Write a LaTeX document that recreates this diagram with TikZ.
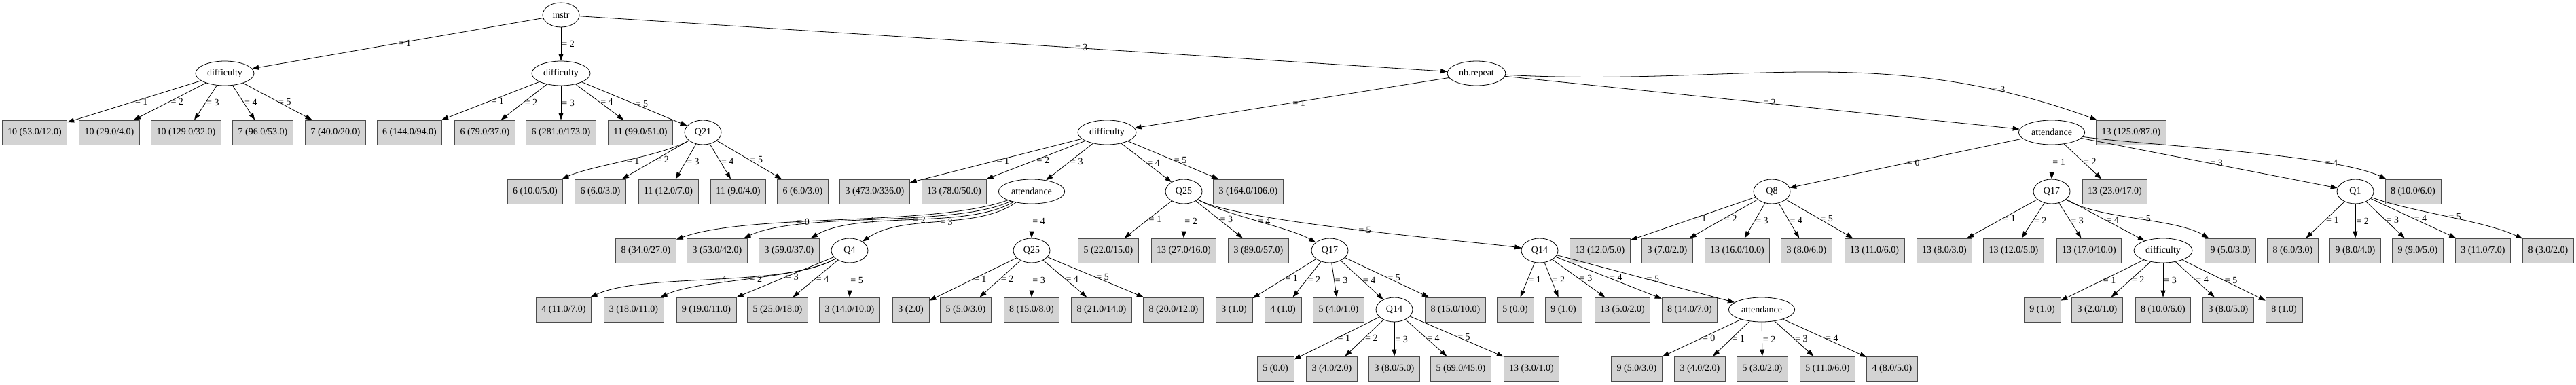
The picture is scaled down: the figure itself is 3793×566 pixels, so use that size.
\documentclass[tikz,border=0pt]{standalone}
\usepackage{fontspec}
\setmainfont{Liberation Serif}
\usepackage{xcolor}
\usepackage{tikz}
\usetikzlibrary{shapes,arrows.meta,positioning}
\definecolor{leafgray}{HTML}{D3D3D3}

\begin{document}
\begin{tikzpicture}[x=1pt, y=-1pt, line width=0.8pt, >={Triangle[length=10pt,width=7pt]}, font=\fontsize{14pt}{16pt}\selectfont]
    % Define styles
    \tikzstyle{attr} = [ellipse, draw=black, minimum width=54pt, minimum height=36pt, inner xsep=4.5pt, inner ysep=2pt]
    \tikzstyle{leaf} = [rectangle, draw=black!70, fill=leafgray, minimum width=54pt, minimum height=36pt, inner xsep=8pt]
    \tikzstyle{cond} = [midway, right, inner sep=1pt]

    \useasboundingbox (0,0) rectangle (3793,566);

    % Root and first split
    \node[attr] (instr) at (826,22) {instr};
    \node[attr] (dif1) at (331,108) {difficulty};
    \node[attr] (dif2) at (826,108) {difficulty};
    \node[attr] (nbrep) at (2174,108) {nb.repeat};

    % Level 2
    \node[leaf] (dif1k1) at (51,195) {10 (53.0/12.0)};
    \node[leaf] (dif1k2) at (161,195) {10 (29.0/4.0)};
    \node[leaf] (dif1k3) at (274,195) {10 (129.0/32.0)};
    \node[leaf] (dif1k4) at (387,195) {7 (96.0/53.0)};
    \node[leaf] (dif1k5) at (494,195) {7 (40.0/20.0)};
    \node[leaf] (dif2k1) at (603,195) {6 (144.0/94.0)};
    \node[leaf] (dif2k2) at (714,195) {6 (79.0/37.0)};
    \node[leaf] (dif2k3) at (826,195) {6 (281.0/173.0)};
    \node[leaf] (dif2k4) at (943,195) {11 (99.0/51.0)};
    \node[attr] (q21) at (1035,195) {Q21};
    \node[attr] (dif3) at (1630,195) {difficulty};
    \node[attr] (att2) at (3021,195) {attendance};
    \node[leaf] (nbrepk3) at (3138,195) {13 (125.0/87.0)};

    % Level 3
    \node[leaf] (q21k1) at (788,282) {6 (10.0/5.0)};
    \node[leaf] (q21k2) at (884,282) {6 (6.0/3.0)};
    \node[leaf] (q21k3) at (984,282) {11 (12.0/7.0)};
    \node[leaf] (q21k4) at (1087,282) {11 (9.0/4.0)};
    \node[leaf] (q21k5) at (1182,282) {6 (6.0/3.0)};
    \node[leaf] (dif3k1) at (1288,282) {3 (473.0/336.0)};
    \node[leaf] (dif3k2) at (1405,282) {13 (78.0/50.0)};
    \node[attr] (att1) at (1519,282) {attendance};
    \node[attr] (q25a) at (1743,282) {Q25};
    \node[leaf] (dif3k5) at (1838,282) {3 (164.0/106.0)};
    \node[attr] (q8) at (2609,282) {Q8};
    \node[attr] (q17a) at (3021,282) {Q17};
    \node[leaf] (att2k2) at (3114,282) {13 (23.0/17.0)};
    \node[attr] (q1) at (3468,282) {Q1};
    \node[leaf] (att2k4) at (3553,282) {8 (10.0/6.0)};

    % Level 4
    \node[leaf] (att1k0) at (951,369) {8 (34.0/27.0)};
    \node[leaf] (att1k1) at (1056,369) {3 (53.0/42.0)};
    \node[leaf] (att1k2) at (1162,369) {3 (59.0/37.0)};
    \node[attr] (q4) at (1251,369) {Q4};
    \node[attr] (q25b) at (1519,369) {Q25};
    \node[leaf] (q25ak1) at (1632,369) {5 (22.0/15.0)};
    \node[leaf] (q25ak2) at (1743,369) {13 (27.0/16.0)};
    \node[leaf] (q25ak3) at (1853,369) {3 (89.0/57.0)};
    \node[attr] (q17b) at (1958,369) {Q17};
    \node[attr] (q14a) at (2267,369) {Q14};
    \node[leaf] (q8k1) at (2356,369) {13 (12.0/5.0)};
    \node[leaf] (q8k2) at (2455,369) {3 (7.0/2.0)};
    \node[leaf] (q8k3) at (2558,369) {13 (16.0/10.0)};
    \node[leaf] (q8k4) at (2660,369) {3 (8.0/6.0)};
    \node[leaf] (q8k5) at (2760,369) {13 (11.0/6.0)};
    \node[leaf] (q17ak1) at (2863,369) {13 (8.0/3.0)};
    \node[leaf] (q17ak2) at (2965,369) {13 (12.0/5.0)};
    \node[leaf] (q17ak3) at (3076,369) {13 (17.0/10.0)};
    \node[attr] (dif4) at (3185,369) {difficulty};
    \node[leaf] (q17ak5) at (3284,369) {9 (5.0/3.0)};
    \node[leaf] (q1k1) at (3376,369) {8 (6.0/3.0)};
    \node[leaf] (q1k2) at (3468,369) {9 (8.0/4.0)};
    \node[leaf] (q1k3) at (3560,369) {9 (9.0/5.0)};
    \node[leaf] (q1k4) at (3656,369) {3 (11.0/7.0)};
    \node[leaf] (q1k5) at (3752,369) {8 (3.0/2.0)};

    % Level 5
    \node[leaf] (q4k1) at (830,456) {4 (11.0/7.0)};
    \node[leaf] (q4k2) at (933,456) {3 (18.0/11.0)};
    \node[leaf] (q4k3) at (1040,456) {9 (19.0/11.0)};
    \node[leaf] (q4k4) at (1145,456) {5 (25.0/18.0)};
    \node[leaf] (q4k5) at (1251,456) {3 (14.0/10.0)};
    \node[leaf] (q25bk1) at (1341,456) {3 (2.0)};
    \node[leaf] (q25bk2) at (1422,456) {5 (5.0/3.0)};
    \node[leaf] (q25bk3) at (1519,456) {8 (15.0/8.0)};
    \node[leaf] (q25bk4) at (1622,456) {8 (21.0/14.0)};
    \node[leaf] (q25bk5) at (1728,456) {8 (20.0/12.0)};
    \node[leaf] (q17bk1) at (1817,456) {3 (1.0)};
    \node[leaf] (q17bk2) at (1889,456) {4 (1.0)};
    \node[leaf] (q17bk3) at (1971,456) {5 (4.0/1.0)};
    \node[attr] (q14b) at (2053,456) {Q14};
    \node[leaf] (q17bk5) at (2143,456) {8 (15.0/10.0)};
    \node[leaf] (q14ak1) at (2231,456) {5 (0.0)};
    \node[leaf] (q14ak2) at (2302,456) {9 (1.0)};
    \node[leaf] (q14ak3) at (2389,456) {13 (5.0/2.0)};
    \node[leaf] (q14ak4) at (2488,456) {8 (14.0/7.0)};
    \node[attr] (att3) at (2594,456) {attendance};
    \node[leaf] (dif4k1) at (3007,456) {9 (1.0)};
    \node[leaf] (dif4k2) at (3088,456) {3 (2.0/1.0)};
    \node[leaf] (dif4k3) at (3185,456) {8 (10.0/6.0)};
    \node[leaf] (dif4k4) at (3281,456) {3 (8.0/5.0)};
    \node[leaf] (dif4k5) at (3363,456) {8 (1.0)};

    % Level 6
    \node[leaf] (q14bk1) at (1878,543) {5 (0.0)};
    \node[leaf] (q14bk2) at (1961,543) {3 (4.0/2.0)};
    \node[leaf] (q14bk3) at (2053,543) {3 (8.0/5.0)};
    \node[leaf] (q14bk4) at (2151,543) {5 (69.0/45.0)};
    \node[leaf] (q14bk5) at (2255,543) {13 (3.0/1.0)};
    \node[leaf] (att3k0) at (2410,543) {9 (5.0/3.0)};
    \node[leaf] (att3k1) at (2503,543) {3 (4.0/2.0)};
    \node[leaf] (att3k2) at (2595,543) {5 (3.0/2.0)};
    \node[leaf] (att3k3) at (2691,543) {5 (11.0/6.0)};
    \node[leaf] (att3k4) at (2786,543) {4 (8.0/5.0)};

    % Branches
    \draw[->] (instr) -- node[cond] {= 1} (dif1);
    \draw[->] (instr) -- node[cond] {= 2} (dif2);
    \draw[->] (instr) -- node[cond, pos=0.57] {= 3} (nbrep);

    \draw[->] (dif1) -- node[cond] {= 1} (dif1k1);
    \draw[->] (dif1) -- node[cond] {= 2} (dif1k2);
    \draw[->] (dif1) -- node[cond] {= 3} (dif1k3);
    \draw[->] (dif1) -- node[cond] {= 4} (dif1k4);
    \draw[->] (dif1) -- node[cond] {= 5} (dif1k5);

    \draw[->] (dif2) -- node[cond] {= 1} (dif2k1);
    \draw[->] (dif2) -- node[cond] {= 2} (dif2k2);
    \draw[->] (dif2) -- node[cond] {= 3} (dif2k3);
    \draw[->] (dif2) -- node[cond] {= 4} (dif2k4);
    \draw[->] (dif2) -- node[cond] {= 5} (q21);

    \draw[->] (nbrep) -- node[cond] {= 1} (dif3);
    \draw[->] (nbrep) -- node[cond] {= 2} (att2);
    \draw[->] (nbrep) to[out=-3, in=160] node[cond, pos=0.83] {= 3} (nbrepk3);

    \draw[->] (q21) to[out=210, in=25, looseness=0.6] node[cond] {= 1} (q21k1);
    \draw[->] (q21) -- node[cond] {= 2} (q21k2);
    \draw[->] (q21) -- node[cond] {= 3} (q21k3);
    \draw[->] (q21) -- node[cond] {= 4} (q21k4);
    \draw[->] (q21) -- node[cond] {= 5} (q21k5);

    \draw[->] (dif3) -- node[cond] {= 1} (dif3k1);
    \draw[->] (dif3) -- node[cond] {= 2} (dif3k2);
    \draw[->] (dif3) -- node[cond] {= 3} (att1);
    \draw[->] (dif3) -- node[cond] {= 4} (q25a);
    \draw[->] (dif3) -- node[cond] {= 5} (dif3k5);

    \draw[->] (att2) -- node[cond] {= 0} (q8);
    \draw[->] (att2) -- node[cond] {= 1} (q17a);
    \draw[->] (att2) -- node[cond] {= 2} (att2k2);
    \draw[->] (att2) -- node[cond] {= 3} (q1);
    \draw[->] (att2) to[out=-8, in=155, looseness=0.5] node[cond, pos=0.75] {= 4} (att2k4);

    \draw[->] (att1) to[out=200, in=20, looseness=0.6] node[cond, pos=0.62] {= 0} (att1k0);
    \draw[->] (att1) to[out=205, in=25, looseness=0.6] node[cond, pos=0.55] {= 1} (att1k1);
    \draw[->] (att1) to[out=210, in=30, looseness=0.7] node[cond] {= 2} (att1k2);
    \draw[->] (att1) to[out=215, in=35, looseness=0.8] node[cond] {= 3} (q4);
    \draw[->] (att1) -- node[cond] {= 4} (q25b);

    \draw[->] (q25a) -- node[cond] {= 1} (q25ak1);
    \draw[->] (q25a) -- node[cond] {= 2} (q25ak2);
    \draw[->] (q25a) -- node[cond] {= 3} (q25ak3);
    \draw[->] (q25a) to[out=-30, in=150, looseness=0.6] node[cond] {= 4} (q17b);
    \draw[->] (q25a) to[out=-30, in=172, looseness=0.35] node[cond] {= 5} (q14a);

    \draw[->] (q8) -- node[cond] {= 1} (q8k1);
    \draw[->] (q8) -- node[cond] {= 2} (q8k2);
    \draw[->] (q8) -- node[cond] {= 3} (q8k3);
    \draw[->] (q8) -- node[cond] {= 4} (q8k4);
    \draw[->] (q8) -- node[cond] {= 5} (q8k5);

    \draw[->] (q17a) -- node[cond] {= 1} (q17ak1);
    \draw[->] (q17a) -- node[cond] {= 2} (q17ak2);
    \draw[->] (q17a) -- node[cond] {= 3} (q17ak3);
    \draw[->] (q17a) -- node[cond] {= 4} (dif4);
    \draw[->] (q17a) to[out=-30, in=150, looseness=0.7] node[cond] {= 5} (q17ak5);

    \draw[->] (q1) -- node[cond] {= 1} (q1k1);
    \draw[->] (q1) -- node[cond] {= 2} (q1k2);
    \draw[->] (q1) -- node[cond] {= 3} (q1k3);
    \draw[->] (q1) -- node[cond] {= 4} (q1k4);
    \draw[->] (q1) to[out=-20, in=155, looseness=0.7] node[cond] {= 5} (q1k5);

    \draw[->] (q4) to[out=210, in=25, looseness=0.6] node[cond] {= 1} (q4k1);
    \draw[->] (q4) to[out=210, in=25, looseness=0.6] node[cond] {= 2} (q4k2);
    \draw[->] (q4) -- node[cond] {= 3} (q4k3);
    \draw[->] (q4) -- node[cond] {= 4} (q4k4);
    \draw[->] (q4) -- node[cond] {= 5} (q4k5);

    \draw[->] (q25b) -- node[cond] {= 1} (q25bk1);
    \draw[->] (q25b) -- node[cond] {= 2} (q25bk2);
    \draw[->] (q25b) -- node[cond] {= 3} (q25bk3);
    \draw[->] (q25b) -- node[cond] {= 4} (q25bk4);
    \draw[->] (q25b) -- node[cond] {= 5} (q25bk5);

    \draw[->] (q17b) -- node[cond] {= 1} (q17bk1);
    \draw[->] (q17b) -- node[cond] {= 2} (q17bk2);
    \draw[->] (q17b) -- node[cond] {= 3} (q17bk3);
    \draw[->] (q17b) -- node[cond] {= 4} (q14b);
    \draw[->] (q17b) -- node[cond] {= 5} (q17bk5);

    \draw[->] (q14a) -- node[cond] {= 1} (q14ak1);
    \draw[->] (q14a) -- node[cond] {= 2} (q14ak2);
    \draw[->] (q14a) -- node[cond] {= 3} (q14ak3);
    \draw[->] (q14a) -- node[cond] {= 4} (q14ak4);
    \draw[->] (q14a) -- node[cond] {= 5} (att3);

    \draw[->] (dif4) -- node[cond] {= 1} (dif4k1);
    \draw[->] (dif4) -- node[cond] {= 2} (dif4k2);
    \draw[->] (dif4) -- node[cond] {= 3} (dif4k3);
    \draw[->] (dif4) -- node[cond] {= 4} (dif4k4);
    \draw[->] (dif4) -- node[cond] {= 5} (dif4k5);

    \draw[->] (q14b) -- node[cond] {= 1} (q14bk1);
    \draw[->] (q14b) -- node[cond] {= 2} (q14bk2);
    \draw[->] (q14b) -- node[cond] {= 3} (q14bk3);
    \draw[->] (q14b) -- node[cond] {= 4} (q14bk4);
    \draw[->] (q14b) -- node[cond] {= 5} (q14bk5);

    \draw[->] (att3) -- node[cond] {= 0} (att3k0);
    \draw[->] (att3) -- node[cond] {= 1} (att3k1);
    \draw[->] (att3) -- node[cond] {= 2} (att3k2);
    \draw[->] (att3) -- node[cond] {= 3} (att3k3);
    \draw[->] (att3) -- node[cond] {= 4} (att3k4);

\end{tikzpicture}
\end{document}
